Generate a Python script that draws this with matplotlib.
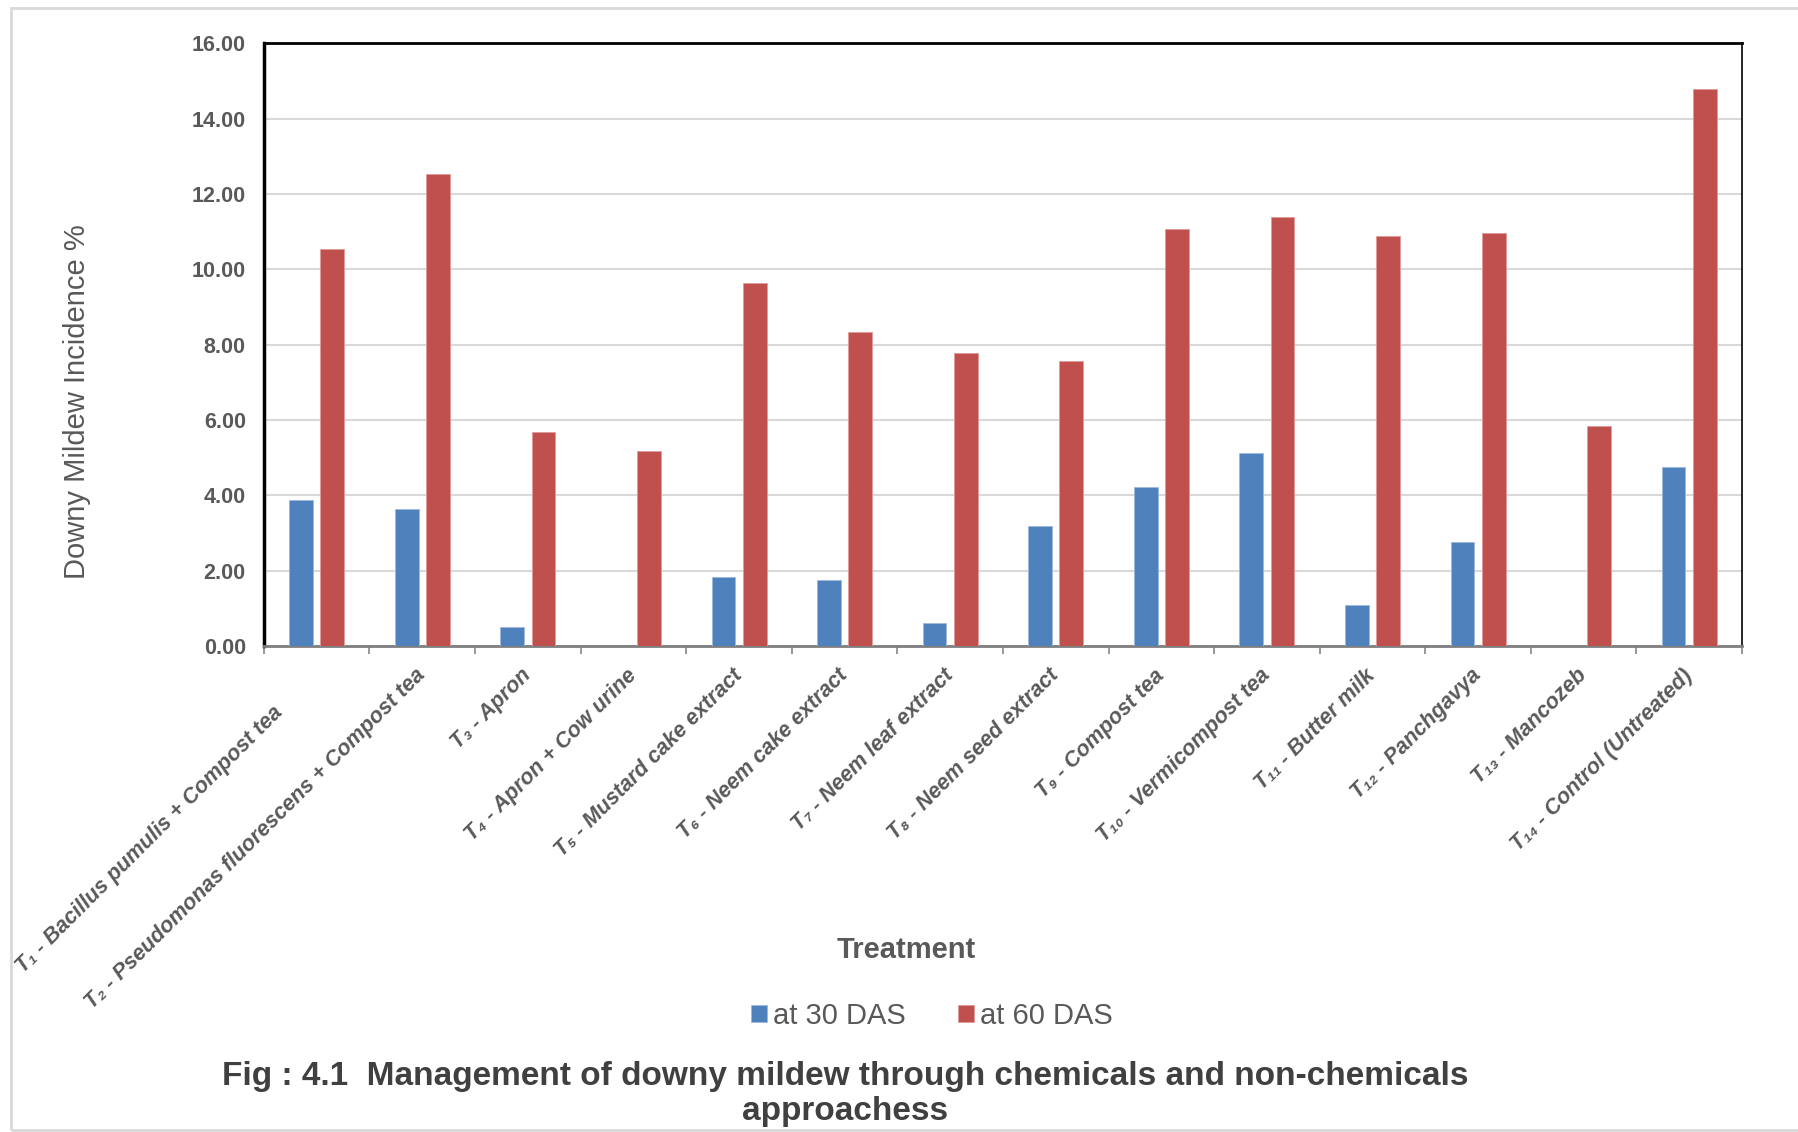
import numpy as np
import matplotlib
matplotlib.use('Agg')
import matplotlib.pyplot as plt
from matplotlib.patches import Rectangle
from matplotlib.transforms import offset_copy

# data
treatments = ['T\u2081 - Bacillus pumulis + Compost tea',
              'T\u2082 - Pseudomonas fluorescens + Compost tea',
              'T\u2083 - Apron',
              'T\u2084 - Apron + Cow urine',
              'T\u2085 - Mustard cake extract',
              'T\u2086 - Neem cake extract',
              'T\u2087 - Neem leaf extract',
              'T\u2088 - Neem seed extract',
              'T\u2089 - Compost tea',
              'T\u2081\u2080 - Vermicompost tea',
              'T\u2081\u2081 - Butter milk',
              'T\u2081\u2082 - Panchgavya',
              'T\u2081\u2083 - Mancozeb',
              'T\u2081\u2084 - Control (Untreated)']
das30 = [3.88, 3.65, 0.51, 0.00, 1.83, 1.76, 0.60, 3.20, 4.22, 5.13, 1.08, 2.75, 0.00, 4.75]
das60 = [10.54, 12.54, 5.68, 5.17, 9.63, 8.34, 7.79, 7.57, 11.07, 11.40, 10.90, 10.98, 5.83, 14.78]
yticks = np.arange(0, 17, 2)

blue = '#4F81BD'
red = '#C0504D'
grey = '#595959'
narrow = ['Liberation Sans Narrow', 'Liberation Sans', 'DejaVu Sans']
arial = ['Liberation Sans', 'DejaVu Sans']

fig = plt.figure(figsize=(17.99, 11.32), dpi=100)
ax = fig.add_axes([0.1467, 0.4293, 0.8216, 0.5323])

x = np.arange(len(treatments))
w = 0.225
ax.bar(x - 0.148, das30, w, color=blue, edgecolor='#9DB9DD', linewidth=0.6, label='at 30 DAS', zorder=3)
ax.bar(x + 0.148, das60, w, color=red, edgecolor='#DE9C9A', linewidth=0.6, label='at 60 DAS', zorder=3)

ax.set_xlim(-0.5, len(treatments) - 0.5)
ax.set_ylim(0, 16)
ax.set_yticks(yticks)
ax.set_yticklabels(['%.2f' % v for v in yticks], family=narrow, fontweight='bold',
                   fontsize=15.5, color=grey)
ax.tick_params(axis='y', length=0, pad=13)
ax.yaxis.grid(True, color='#D9D9D9', linewidth=1.5, zorder=0)

# category boundary ticks, labels drawn separately
ax.set_xticks(np.arange(len(treatments) + 1) - 0.5)
ax.set_xticklabels([])
ax.tick_params(axis='x', length=6, width=1.2, color='#868686')

ax.spines['left'].set_linewidth(2.5)
ax.spines['top'].set_linewidth(2)
ax.spines['right'].set_linewidth(1.2)
ax.spines['bottom'].set_color('#7F7F7F')
ax.spines['bottom'].set_linewidth(2)

# rotated treatment labels
for i, lab in enumerate(treatments):
    tr = offset_copy(ax.get_xaxis_transform(), fig=fig, x=0, y=-19, units='points')
    if i == 0:
        # first label pushed down-left so it fits inside the chart
        tr = offset_copy(ax.get_xaxis_transform(), fig=fig, x=-27, y=-46, units='points')
    ax.text(i, 0, lab, transform=tr, rotation=45, rotation_mode='anchor',
            ha='right', va='center', fontsize=15.6, fontweight='bold', style='italic',
            color=grey, family=narrow)

fig.text(0.043, 0.645, 'Downy Mildew Incidence %', rotation=90, ha='center', va='center',
         fontsize=21, color=grey, family=arial)
fig.text(0.504, 0.161, 'Treatment', ha='center', va='center', fontsize=21,
         fontweight='bold', color=grey, family=narrow)

fig.legend(loc='center', bbox_to_anchor=(0.518, 0.1025), ncol=2, frameon=False,
           prop={'family': narrow, 'size': 21}, handlelength=0.55, handleheight=0.55,
           handletextpad=0.2, columnspacing=1.8, labelcolor=grey)

fig.text(0.47, 0.0335, 'Fig : 4.1  Management of downy mildew through chemicals and non-chemicals\napproachess',
         ha='center', va='center', fontsize=24, fontweight='bold', color='#404040',
         family=narrow, linespacing=1.2, multialignment='center')

# light outer frame
fig.patches.append(Rectangle((11 / 1799, 2 / 1132), 1.0, 1 - 10 / 1132,
                             transform=fig.transFigure, fill=False,
                             edgecolor='#D9D9D9', linewidth=2))

fig.savefig('out.png', dpi=100)
